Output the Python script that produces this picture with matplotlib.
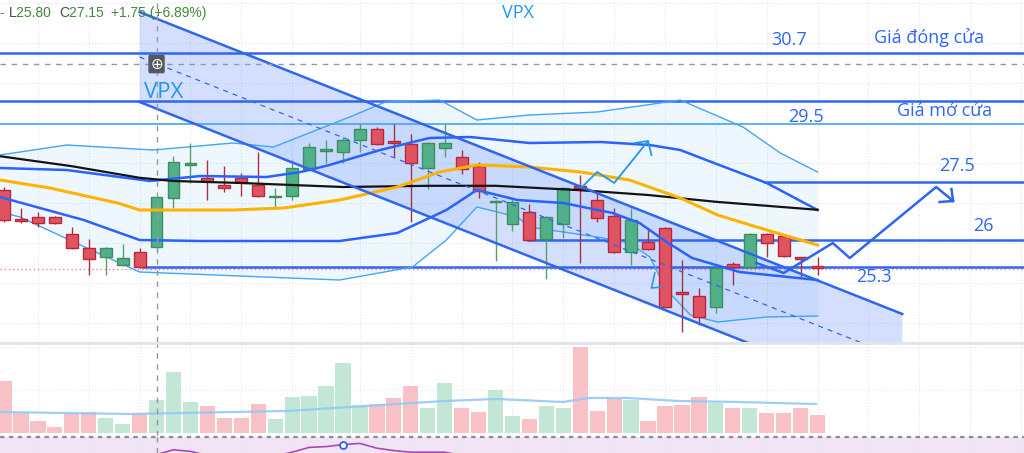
import matplotlib
matplotlib.use("Agg")
import matplotlib.pyplot as plt
from matplotlib.lines import Line2D
import numpy as np

# --- candles (bar index = position), prices in VND thousand ---
opens = [27.325, 26.60, 26.65, 26.65, 26.225, 25.875, 25.65, 25.45, 25.775, 25.90,
         27.125, 27.96, 27.625, 27.45, 27.625, 27.45, 27.14, 27.175, 27.85, 28.31,
         28.275, 28.575, 28.85, 28.51, 28.475, 27.875, 28.375, 28.15, 27.925, 27.02,
         26.475, 26.775, 26.10, 26.475, 27.385, 27.075, 26.675, 25.775, 26.025, 26.375,
         24.74, 24.675, 24.40, 25.475, 25.40, 26.225, 26.175, 25.61, 25.385]
highs = [27.40, 26.875, 26.775, 26.67, 26.40, 26.10, 25.90, 25.975, 25.875, 27.17,
         28.175, 28.50, 28.075, 27.925, 27.75, 28.275, 27.375, 28.075, 28.50, 28.575,
         28.65, 28.975, 28.90, 28.975, 28.725, 28.52, 28.975, 28.325, 28.025, 27.075,
         27.125, 26.975, 26.675, 27.40, 27.70, 27.325, 26.875, 26.875, 26.375, 26.40,
         25.575, 24.875, 25.40, 25.525, 26.25, 26.25, 26.20, 25.62, 25.65]
lows = [26.525, 26.50, 26.40, 26.48, 25.85, 25.20, 25.20, 25.43, 25.38, 25.80,
        26.875, 27.50, 27.075, 27.275, 27.175, 27.15, 26.90, 27.075, 27.80, 28.00,
        28.00, 28.275, 28.45, 28.15, 26.525, 27.35, 28.15, 27.725, 27.125, 25.55,
        26.30, 26.05, 25.10, 26.125, 25.50, 26.525, 25.75, 25.45, 25.83, 24.38,
        23.775, 23.95, 24.25, 24.95, 25.38, 25.65, 25.65, 25.15, 25.20]
closes = [26.575, 26.56, 26.50, 26.50, 25.875, 25.60, 25.875, 25.625, 25.40, 27.15,
          28.025, 27.975, 27.55, 27.375, 27.525, 27.175, 27.15, 27.875, 28.40, 28.325,
          28.575, 28.85, 28.475, 28.50, 28.00, 28.50, 28.50, 27.85, 27.30, 27.025,
          27.025, 26.075, 26.65, 27.375, 27.375, 26.625, 25.775, 26.575, 25.85, 24.40,
          24.725, 24.15, 25.375, 25.40, 26.225, 26.00, 25.675, 25.60, 25.375]
volume = [1210, 465, 280, 140, 465, 490, 350, 210, 465, 770,
          1420, 720, 630, 350, 350, 675, 325, 840, 860, 1095,
          1630, 650, 675, 815, 1095, 580, 1165, 580, 490, 1000,
          395, 325, 630, 580, 2000, 510, 790, 770, 280, 630,
          650, 840, 700, 580, 580, 465, 465, 580, 420]

# --- indicator lines, read at knots (bar, price) ---
ma_long_x = [-0.24, 4, 8, 10, 14, 20, 25, 29, 34, 38, 42, 45, 48]
ma_long = [28.17, 27.92, 27.63, 27.55, 27.50, 27.40, 27.43, 27.43, 27.32, 27.20, 27.03, 26.93, 26.83]
ma20_x = [-0.24, 2.7, 6.7, 8.0, 13.5, 16.5, 19.8, 23.2, 25.7, 27.9, 31.0, 34.0, 36.9, 39.9, 42.1, 45.0, 48.0]
ma20 = [27.575, 27.375, 27.0, 26.825, 26.825, 26.875, 27.075, 27.40, 27.775, 27.95, 27.90, 27.775,
        27.575, 27.125, 26.70, 26.325, 25.95]
kc_up_x = [-0.24, 3.7, 8.6, 11.6, 15.5, 17.5, 19.2, 22.2, 25.1, 27.5, 31.0, 35.2, 38.1, 39.9, 42.2, 45.0, 48.0]
kc_up = [27.875, 27.825, 27.55, 27.675, 27.65, 27.775, 27.95, 28.325, 28.625, 28.65, 28.50, 28.525,
         28.45, 28.325, 27.95, 27.50, 26.825]
kc_lo_x = [-0.24, 4.7, 8.0, 11.6, 19.8, 23.2, 26.1, 27.9, 29.1, 30.3, 33.0, 35.9, 37.5, 39.1, 40.6, 43.4, 48.0]
kc_lo = [27.15, 26.575, 26.075, 26.05, 26.05, 26.25, 26.825, 27.325, 27.20, 27.075, 27.0, 26.75,
         26.50, 26.025, 25.625, 25.275, 25.075]
bb_up_x = [-0.24, 3.7, 8.8, 13.5, 15.9, 20.4, 22.5, 25.7, 27.9, 31.0, 35.0, 37.9, 39.9, 43.6, 45.8, 48.0]
bb_up = [28.20, 28.45, 28.325, 28.50, 28.40, 29.15, 29.525, 29.575, 29.075, 29.20, 29.275, 29.45,
         29.575, 28.90, 28.25, 27.775]
bb_lo_x = [-0.24, 0.94, 4.5, 8.0, 13.9, 19.8, 24.1, 26.1, 27.9, 30.3, 31.0, 33.0, 35.0, 36.9, 38.1,
           39.1, 40.5, 42.1, 45.0, 48.0]
bb_lo = [26.775, 26.65, 25.95, 25.275, 25.175, 25.075, 25.40, 26.075, 26.90, 26.65, 26.40, 26.275,
         26.15, 26.00, 25.65, 24.825, 24.20, 24.025, 24.15, 24.175]
vol_ma_x = [-0.24, 7.5, 16.7, 21.4, 26, 29, 33, 34.5, 36.8, 39.8, 43.3, 47.9]
vol_ma = [488, 442, 512, 628, 744, 791, 721, 814, 814, 744, 721, 674]
rsi = [40, 41, 40, 39, 38, 39, 40, 42, 45, 48,
       54, 52, 47, 45, 44, 43, 46, 51, 57, 58,
       60.5, 62, 56, 53, 51, 51, 51, 47, 44, 42,
       41, 40, 39, 42, 44, 40, 38, 40, 37, 33,
       32, 31, 35, 36, 40, 41, 40, 39, 38]

# --- drawings ---
levels = [30.75, 29.55, 27.53, 26.08, 25.40]
level_start = [-1, -1, 44.9, 30.9, 8.2]
thin_level = 28.97
last_price = 25.35
channel_x = [8.0, 53.0]
channel_top = [31.775, 24.225]
channel_bot = [29.525, 21.975]
zig_small_x = [34.1, 35.0, 36.0, 38.0]
zig_small_y = [27.40, 27.775, 27.50, 28.55]
zig_big_x = [44.4, 46.0, 48.9, 49.9, 55.0, 56.0]
zig_big_y = [25.50, 25.25, 26.00, 25.625, 27.40, 27.05]
labels = ["30.7", "Giá đóng cửa", "29.5", "Giá mở cửa", "27.5", "26", "25.3"]
label_x = [46.3, 54.6, 47.3, 55.5, 56.2, 57.8, 51.3]
label_y = [31.075, 31.15, 29.15, 29.30, 27.925, 26.425, 25.15]
grid_bars = [2, 5, 8, 11, 14, 17] + list(range(21, 61, 3))
cross_bar, cross_price = 9, 30.475

BLUE = "#2f66f0"
LIGHT = "#2196f3"
H = 453.0

fig = plt.figure(figsize=(10.24, 4.53), dpi=100)


def pane(top, bottom):
    a = fig.add_axes([0, (H - bottom) / H, 1, (bottom - top) / H])
    a.set_xticks([])
    a.set_yticks([])
    for s in a.spines.values():
        s.set_visible(False)
    a.set_xlim(-0.236, 60.18)
    return a


ax = pane(0, 342)
axv = pane(343, 436)
axr = pane(437, 453)
ax.set_ylim(23.525, 32.075)
axv.set_ylim(-70, 2093)
axr.set_ylim(50, 70)
axr.set_facecolor("#f1e5f4")

# grid
for p in range(24, 33):
    ax.axhline(p, color="#e3e5eb", lw=0.8, ls=":", zorder=0.5)
for v in (1000, 2000):
    axv.axhline(v, color="#e3e5eb", lw=0.8, ls=":", zorder=0.5)
for a in (ax, axv, axr):
    for b in grid_bars:
        a.axvline(b, color="#e3e5eb", lw=0.8, ls=":", zorder=0.5)
    a.axvline(cross_bar, color="#9598a1", lw=1, ls=(0, (4, 4)), zorder=8)
ax.axhline(cross_price, color="#9598a1", lw=1, ls=(0, (4, 4)), zorder=8)

# bands fill
ax.fill(np.r_[bb_up_x, bb_lo_x[::-1]], np.r_[bb_up, bb_lo[::-1]], color=LIGHT, alpha=0.07, lw=0, zorder=1)
ax.plot(bb_up_x, bb_up, color="#42a5f5", lw=1, zorder=2.5)
ax.plot(bb_lo_x, bb_lo, color="#42a5f5", lw=1, zorder=2.5)

# channel
ax.fill([channel_x[0], channel_x[1], channel_x[1], channel_x[0]],
        [channel_top[0], channel_top[1], channel_bot[1], channel_bot[0]],
        color="#2962ff", alpha=0.2, lw=0, zorder=1.5)
ax.plot(channel_x, channel_top, color=BLUE, lw=1.8, zorder=6)
ax.plot(channel_x, channel_bot, color=BLUE, lw=1.8, zorder=6)
ax.plot(channel_x, np.mean([channel_top, channel_bot], axis=0), color=BLUE, lw=0.9,
        ls=(0, (4, 4)), zorder=6)

# horizontal levels
for lv, st in zip(levels, level_start):
    ax.plot([st, 61], [lv, lv], color=BLUE, lw=1.8, zorder=2)
ax.axhline(thin_level, color="#42a5f5", lw=1.2, zorder=2)
ax.axhline(last_price, color="#f23645", lw=1, ls=(0, (1, 2)), alpha=0.6, zorder=2)

# candles
x = np.arange(len(opens))
o, h, l, c = map(np.array, (opens, highs, lows, closes))
up = c >= o
body_col = np.where(up, "#52b088", "#e05363")
edge_col = np.where(up, "#3d8d5e", "#b9283a")
wick_col = np.where(up, "#5c9e6a", "#a8323c")
ax.vlines(x, l, h, colors=wick_col, lw=1, zorder=3)
bottom = np.minimum(o, c)
height = np.maximum(np.abs(c - o), 0.04)
ax.bar(x, height, bottom=bottom, width=0.7, color=body_col, edgecolor=edge_col, lw=1, zorder=4)

# indicator lines
ax.plot(kc_up_x, kc_up, color="#2962ff", lw=1.8, zorder=5)
ax.plot(kc_lo_x, kc_lo, color="#2962ff", lw=1.8, zorder=5)
ax.plot(ma_long_x, ma_long, color="#131313", lw=1.6, zorder=5)
ax.plot(ma20_x, ma20, color="#ffb300", lw=2.2, zorder=5)

# zigzag arrows
ax.plot(zig_small_x, zig_small_y, color=LIGHT, lw=1.3, zorder=6)
ax.plot([37.2, zig_small_x[-1], 38.2], [28.50, zig_small_y[-1], 28.2], color=LIGHT, lw=1.3, zorder=6)
ax.plot(zig_big_x, zig_big_y, color=BLUE, lw=1.8, zorder=6)
ax.plot([55.2, zig_big_x[-1], 55.9], [27.025, zig_big_y[-1], 27.35], color=BLUE, lw=1.8, zorder=6)
ax.plot([38.4, 38.2, 38.8], [25.25, 24.875, 24.90], color=LIGHT, lw=1.2, zorder=6)

# labels
for s, lx, ly in zip(labels, label_x, label_y):
    ax.text(lx, ly, s, color=BLUE, fontsize=13, ha="center", va="center", family="Open Sans", zorder=7)
ax.text(30.3, 31.75, "VPX", color=LIGHT, fontsize=13, ha="center", va="center", family="Open Sans", zorder=7)
ax.text(9.4, 29.775, "VPX", color=LIGHT, fontsize=16, ha="center", va="center", family="Open Sans", zorder=7)
ax.text(cross_bar, cross_price, "\u2295", color="white", fontsize=11, ha="center", va="center", zorder=9,
        bbox=dict(boxstyle="round,pad=0.12", fc="#55585f", ec="none"))

# header legend
parts = [("- ", "#777"), ("L", "#4a4a4a"), ("25.80  ", "#43883a"), ("C", "#4a4a4a"),
         ("27.15  ", "#43883a"), ("+1.75 (+6.89%)", "#43883a")]
prev = ax.text(0.0, 0.961, parts[0][0], transform=ax.transAxes, color=parts[0][1],
               fontsize=10, va="center", ha="left", family="Liberation Sans", zorder=9)
for s, col in parts[1:]:
    prev = ax.annotate(s, xy=(1, 0.5), xycoords=prev, xytext=(0, 0), textcoords="offset points",
                       color=col, fontsize=10, va="center", ha="left", family="Liberation Sans", zorder=9)

# volume
vcol = np.where(up, "#c3e6d5", "#f7c1c5")
axv.bar(x, volume, width=0.9, color=vcol, zorder=2)
axv.plot(vol_ma_x, vol_ma, color="#90caf9", lw=1.6, alpha=0.9, zorder=3)

# rsi
axr.plot(x, rsi, color="#ab47bc", lw=1.2, zorder=3)
axr.plot([20], [rsi[20]], marker="o", ms=5, mfc="white", mec="#2962ff", mew=1.3, zorder=4)

# pane separators
fig.add_artist(Line2D([0, 1], [1 - 342.5 / H] * 2, transform=fig.transFigure, color="#e0e3eb", lw=2))
fig.add_artist(Line2D([0, 1], [1 - 436.5 / H] * 2, transform=fig.transFigure, color="#8a8d96", lw=1.6,
                      ls=(0, (2, 2))))

fig.savefig("out.png", dpi=100)
